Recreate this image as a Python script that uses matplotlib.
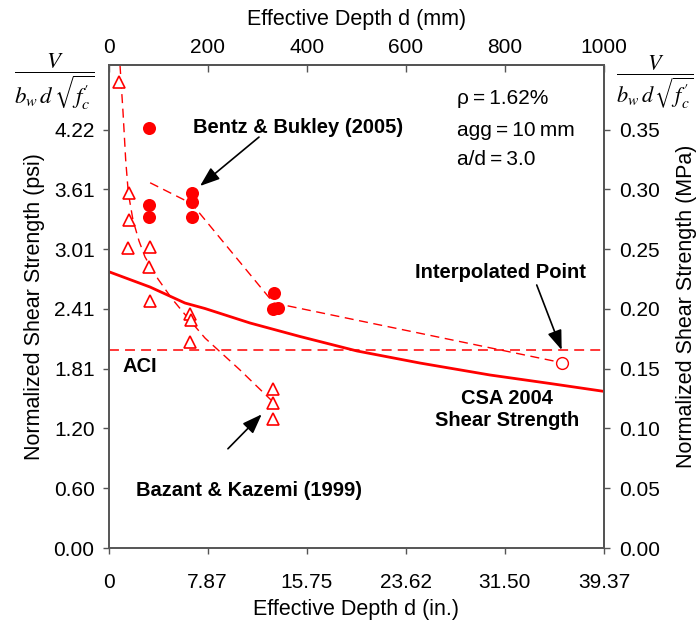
import matplotlib
matplotlib.use('Agg')
import matplotlib.pyplot as plt

plt.rcParams['font.family'] = ['Liberation Sans', 'DejaVu Sans']
plt.rcParams['mathtext.fontset'] = 'stix'

# ---------------- data (depth in mm, strength in MPa) ----------------
bentz_d = [82, 82, 82, 168, 168, 168, 334, 331, 342]
bentz_v = [0.351, 0.287, 0.277, 0.297, 0.289, 0.277, 0.213, 0.200, 0.201]
bentz_line_d = [84, 168, 333, 915]
bentz_line_v = [0.3055, 0.288, 0.205, 0.155]
interp_d = [915]
interp_v = [0.155]

bazant_d = [21, 42, 41, 40, 84, 82, 84, 164.5, 166, 164.5, 332.6, 332.6, 332.6]
bazant_v = [0.390, 0.297, 0.274, 0.251, 0.252, 0.235, 0.207, 0.196, 0.191,
            0.172, 0.133, 0.121, 0.108]
bazant_fit_d = [23.2, 29.3, 34.7, 40.0, 49.4, 61.6, 73.7, 99.9, 127.5, 160.4,
                194.8, 265.4, 328.0]
bazant_fit_v = [0.404, 0.3646, 0.3245, 0.2969, 0.2743, 0.2568, 0.2434, 0.2250,
                0.2088, 0.1923, 0.1756, 0.1489, 0.1238]

csa_d = [0, 83.8, 154.4, 194.8, 285.6, 386.5, 501.5, 628.7, 770.0, 891.0, 1000]
csa_v = [0.2312, 0.2183, 0.2049, 0.2003, 0.1882, 0.1769, 0.1648, 0.1547,
         0.1447, 0.1376, 0.1310]

aci_v = 0.1655

mm_ticks = [0, 200, 400, 600, 800, 1000]
in_labels = ['0', '7.87', '15.75', '23.62', '31.50', '39.37']
mpa_ticks = [0.0, 0.05, 0.10, 0.15, 0.20, 0.25, 0.30, 0.35]
psi_labels = ['0.00', '0.60', '1.20', '1.81', '2.41', '3.01', '3.61', '4.22']
mpa_labels = ['0.00', '0.05', '0.10', '0.15', '0.20', '0.25', '0.30', '0.35']

# ---------------- figure ----------------
fig = plt.figure(figsize=(6.96, 6.27), dpi=100)
ax = fig.add_axes([108.5 / 696, 79 / 627, 495.5 / 696, 483 / 627])
ax.set_xlim(0, 1000)
ax.set_ylim(0, 0.404)

red = '#FF0000'
spine_c = '#555555'

ax.axhline(aci_v, color=red, lw=1.1, dashes=(6.5, 4))
ax.plot(csa_d, csa_v, color=red, lw=2.0, solid_capstyle='butt')
ax.plot(bentz_line_d, bentz_line_v, color=red, lw=1.0, dashes=(6.5, 4))
ax.plot(bazant_fit_d, bazant_fit_v, color=red, lw=1.0, dashes=(6.5, 4))
ax.plot(bazant_d, bazant_v, linestyle='none', marker='^', ms=8,
        mfc='white', mec=red, mew=1.2)
ax.plot(bentz_d, bentz_v, linestyle='none', marker='o', ms=9.4,
        mfc=red, mec=red, mew=0)
ax.plot(interp_d, interp_v, linestyle='none', marker='o', ms=8.5,
        mfc='white', mec=red, mew=1.0)

for s in ax.spines.values():
    s.set_color(spine_c)
    s.set_linewidth(1.4)

ax.set_xticks(mm_ticks)
ax.set_xticklabels(in_labels)
ax.set_yticks(mpa_ticks)
ax.set_yticklabels(psi_labels)
ax.tick_params(axis='x', direction='out', length=4, width=1, color=spine_c,
               labelsize=15, pad=14)
ax.tick_params(axis='y', direction='out', length=4, width=1, color=spine_c,
               labelsize=15, pad=6)

secx = ax.secondary_xaxis('top')
secx.set_xticks(mm_ticks)
secx.tick_params(direction='in', length=5, width=1, color=spine_c,
                 labelsize=15, pad=6)
secx.spines['top'].set_color(spine_c)
secx.spines['top'].set_linewidth(1.4)

secy = ax.secondary_yaxis('right')
secy.set_yticks(mpa_ticks)
secy.set_yticklabels(mpa_labels)
secy.tick_params(direction='out', length=4, width=1, color=spine_c,
                 labelsize=15, pad=7)
secy.spines['right'].set_color(spine_c)
secy.spines['right'].set_linewidth(1.4)

ax.set_xlabel('Effective Depth d (in.)', fontsize=15.5, labelpad=5)
secx.set_xlabel('Effective Depth d (mm)', fontsize=15.5, labelpad=9)
ax.set_ylabel('Normalized Shear Strength (psi)', fontsize=15.5, labelpad=6)
secy.set_ylabel('Normalized Shear Strength (MPa)', fontsize=15.5, labelpad=11)

# fraction labels
frac = r'$\dfrac{V}{b_w\, d\, \sqrt{f^{\prime}_c}}$'
fig.text(54 / 696, 1 - 82 / 627, frac, fontsize=16.5, ha='center', va='center')
fig.text(655 / 696, 1 - 82 / 627, frac, fontsize=16, ha='center', va='center')

# annotations
arrow = dict(arrowstyle='-|>,head_length=0.6,head_width=0.22', color='black',
             lw=1.2, shrinkA=0, shrinkB=0, mutation_scale=20)
ax.text(170.5, 0.352, 'Bentz & Bukley (2005)', fontsize=14.5,
        fontweight='bold', ha='left', va='center')
ax.annotate('', xy=(184.7, 0.3028), xytext=(303.7, 0.3437), arrowprops=arrow)

ax.text(283.6, 0.0485, 'Bazant & Kazemi (1999)', fontsize=14.5,
        fontweight='bold', ha='center', va='center')
ax.annotate('', xy=(309.2, 0.1118), xytext=(241.0, 0.0830), arrowprops=arrow)

ax.text(790, 0.2306, 'Interpolated Point', fontsize=14.5,
        fontweight='bold', ha='center', va='center')
ax.annotate('', xy=(914.6, 0.1656), xytext=(864.2, 0.220), arrowprops=arrow)

ax.text(28.7, 0.1522, 'ACI', fontsize=14.5, fontweight='bold',
        ha='left', va='center')
ax.text(804, 0.1158, 'CSA 2004\nShear Strength', fontsize=14.5,
        fontweight='bold', ha='center', va='center', linespacing=1.15)

ax.text(704, 0.3761, 'ρ\u2009=\u20091.62%', fontsize=15, ha='left', va='center')
ax.text(704, 0.3496, 'agg\u2009=\u200910\u2009mm', fontsize=15, ha='left', va='center')
ax.text(704, 0.3251, 'a/d\u2009=\u20093.0', fontsize=15, ha='left', va='center')

fig.savefig('out.png', dpi=100)
